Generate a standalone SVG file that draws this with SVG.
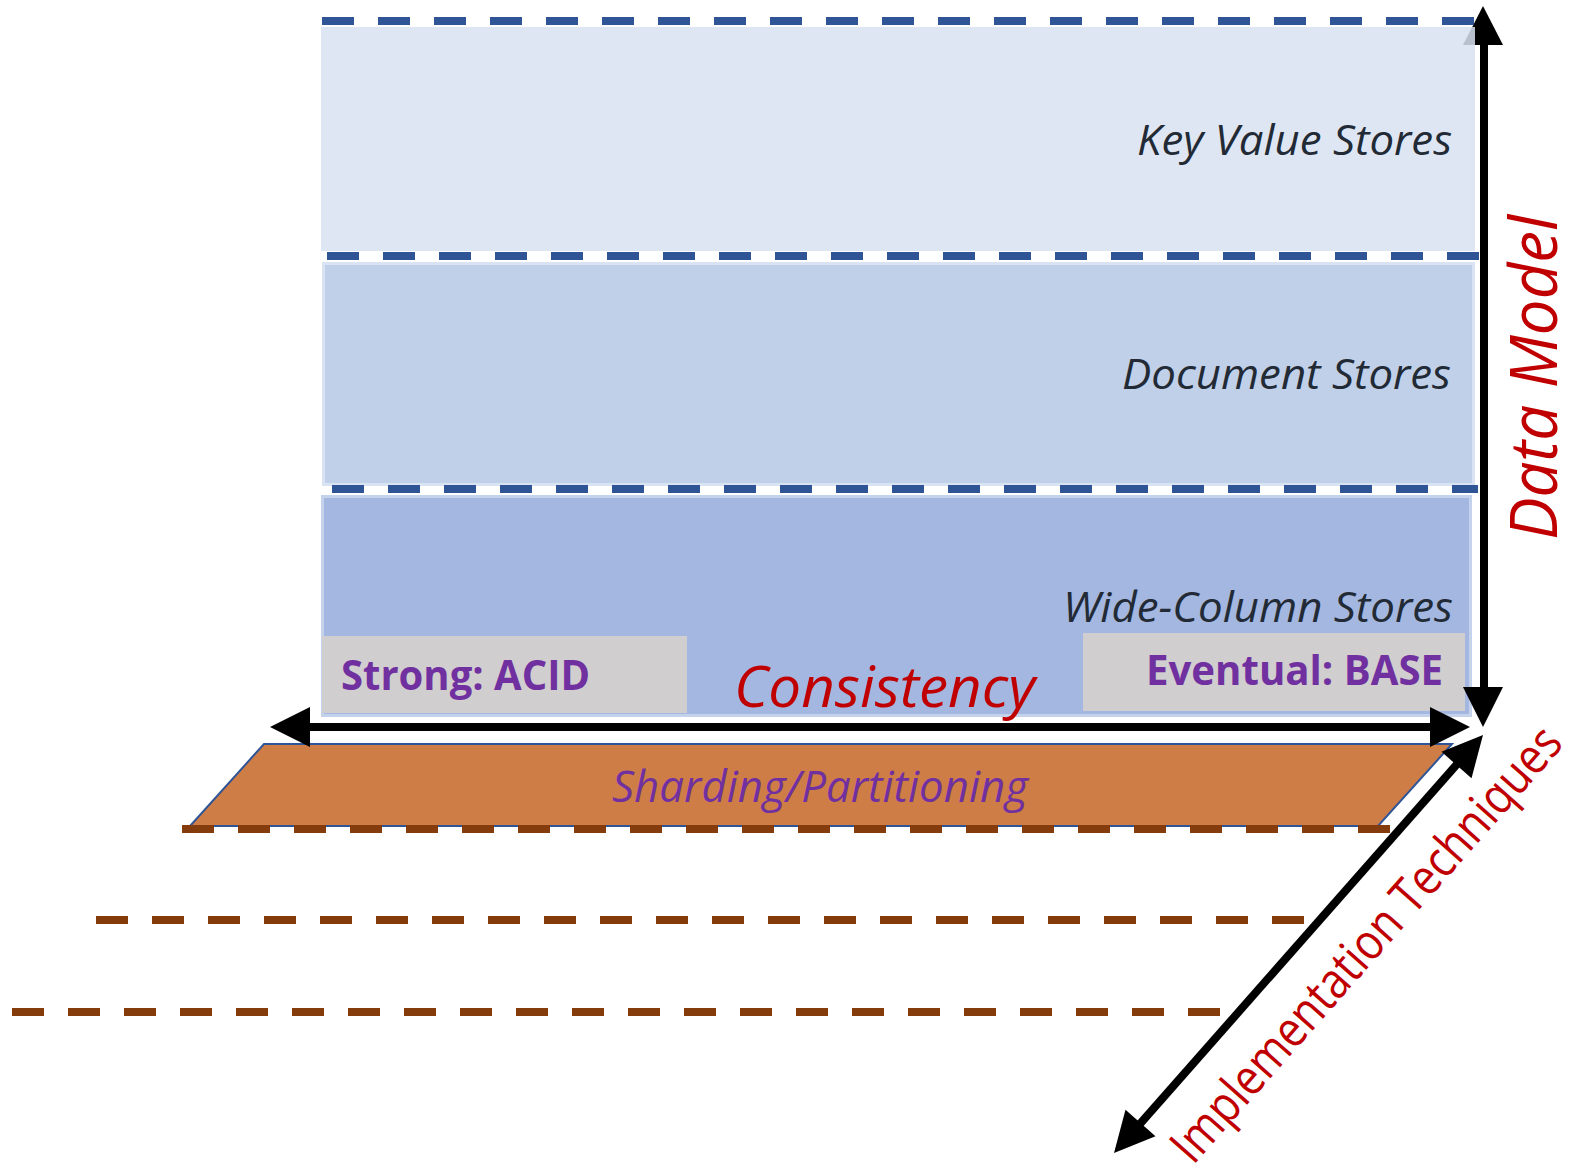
<svg xmlns="http://www.w3.org/2000/svg" width="1573" height="1175" viewBox="0 0 1573 1175">
  <defs>
    <style>
      .layer-label { font-family: "Open Sans", "Liberation Sans", sans-serif; font-style: italic; font-size: 42px; fill: #222A35; text-anchor: end; }
      .consistency-tag { font-family: "Open Sans", "Liberation Sans", sans-serif; font-weight: bold; font-size: 41px; fill: #7030A0; }
      .axis-label { font-family: "Open Sans", "Liberation Sans", sans-serif; fill: #C00000; }
      .blue-dash { stroke: #2F5597; stroke-width: 8; stroke-dasharray: 32 24; fill: none; }
      .brown-dash { stroke: #843C0C; stroke-width: 8; stroke-dasharray: 32 24; fill: none; }
      .shaft { stroke: #000; stroke-width: 8; fill: none; }
      .head { fill: #000; }
      .tag-box { fill: #D0CECE; }
    </style>
  </defs>

  <rect width="1573" height="1175" fill="#FFFFFF"/>

  <!-- shard planes behind the base layer -->
  <g id="shard-planes">
    <line class="brown-dash" x1="96" y1="920" x2="1304" y2="920"/>
    <line class="brown-dash" x1="12" y1="1012" x2="1220" y2="1012"/>
  </g>

  <!-- sharding base plane -->
  <g id="sharding">
    <polygon points="264,744 1452,744 1378,826 190,826" fill="#CF7D46" stroke="#2F5597" stroke-width="2"/>
    <line class="brown-dash" x1="182" y1="829" x2="1390" y2="829"/>
    <text x="612" y="802" font-family="Open Sans, Liberation Sans, sans-serif" font-style="italic" font-size="43" fill="#7030A0" textLength="416" lengthAdjust="spacingAndGlyphs">Sharding/Partitioning</text>
  </g>

  <!-- data model layers -->
  <g id="document-stores">
    <rect x="323.5" y="263.5" width="1150" height="221" fill="#C0D0E9" stroke="#DAE3F3" stroke-width="3"/>
    <text class="layer-label" x="1451" y="389" textLength="329" lengthAdjust="spacingAndGlyphs">Document Stores</text>
  </g>
  <line class="blue-dash" x1="327" y1="256" x2="1479" y2="256"/>

  <g id="wide-column-stores">
    <rect x="322.5" y="496.5" width="1148" height="219" fill="#A3B7E0" stroke="#C5D2EC" stroke-width="3"/>
    <text class="layer-label" x="1453" y="622" font-size="41" textLength="390" lengthAdjust="spacingAndGlyphs">Wide-Column Stores</text>
  </g>
  <line class="blue-dash" x1="332" y1="489" x2="1478" y2="489" stroke-width="6"/>

  <g id="strong-acid">
    <rect class="tag-box" x="322" y="636" width="365" height="77"/>
    <text class="consistency-tag" x="341" y="690" textLength="249" lengthAdjust="spacingAndGlyphs">Strong: ACID</text>
  </g>

  <g id="eventual-base">
    <rect class="tag-box" x="1083" y="633" width="382" height="78"/>
    <text class="consistency-tag" x="1146" y="685" textLength="297" lengthAdjust="spacingAndGlyphs">Eventual: BASE</text>
  </g>

  <text id="consistency-label" class="axis-label" x="734" y="707" font-style="italic" font-size="56" textLength="301" lengthAdjust="spacingAndGlyphs">Consistency</text>

  <!-- axis arrows -->
  <g id="connectors">
    <!-- consistency axis -->
    <line class="shaft" x1="308" y1="727" x2="1432" y2="727"/>
    <polygon class="head" points="270,727 310,707 310,747"/>
    <polygon class="head" points="1470,727 1430,707 1430,747"/>
    <!-- data model axis -->
    <line class="shaft" x1="1484" y1="43" x2="1484" y2="689"/>
    <polygon class="head" points="1483,6 1463,45 1503,45"/>
    <polygon class="head" points="1483,727 1463,687 1503,687"/>
    <!-- implementation axis -->
    <line class="shaft" x1="1458" y1="763" x2="1139" y2="1125"/>
    <polygon class="head" points="1483,735 1471.5,778.2 1441.5,751.8"/>
    <polygon class="head" points="1114,1153 1155.5,1136.2 1125.5,1109.8"/>
  </g>

  <!-- top layer, slightly translucent over the axis tip -->
  <g id="key-value-stores">
    <rect x="321" y="27" width="1154" height="224" fill="#D9E2F1" fill-opacity="0.85"/>
    <text class="layer-label" x="1452" y="155" textLength="315" lengthAdjust="spacingAndGlyphs">Key Value Stores</text>
  </g>
  <line class="blue-dash" x1="322" y1="21" x2="1474" y2="21"/>

  <text id="data-model-label" class="axis-label" transform="translate(1557,540) rotate(-90)" font-style="italic" font-size="66" textLength="325" lengthAdjust="spacingAndGlyphs">Data Model</text>

  <text id="implementation-label" class="axis-label" transform="translate(1193,1166) rotate(-48.57)" font-size="50" textLength="562" lengthAdjust="spacingAndGlyphs">Implementation Techniques</text>
</svg>
